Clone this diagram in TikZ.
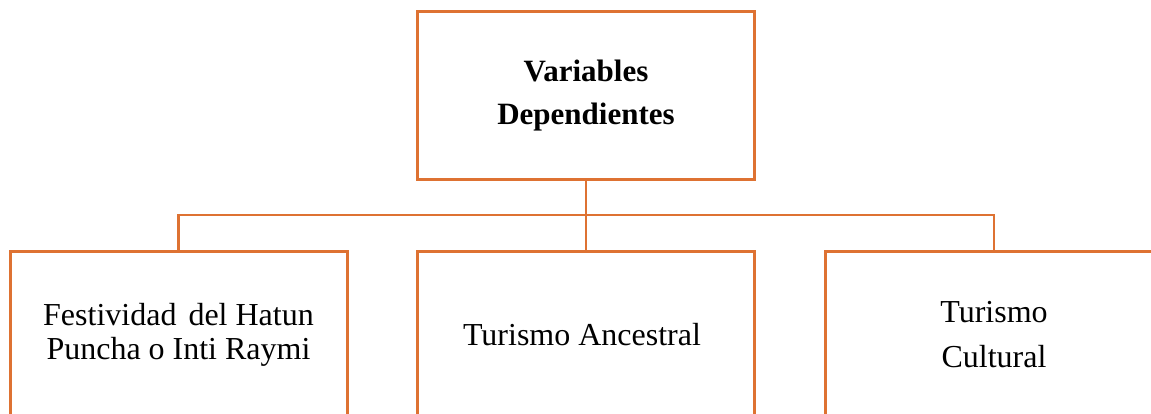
\documentclass[tikz,border=0pt]{standalone}
\usepackage{fontspec}
\setmainfont{Liberation Serif}
\usetikzlibrary{positioning}
\definecolor{naranja}{RGB}{222,114,50}

\begin{document}
\begin{tikzpicture}[x=1pt,y=-1pt]
\tikzstyle{every node}=[font=\fontsize{32}{34}\selectfont]
\tikzstyle{caja}=[rectangle, draw=naranja, line width=3pt, align=center,
minimum width=337pt, minimum height=168pt, inner sep=0pt]
\tikzstyle{rama}=[draw=naranja, line width=2.2pt]

\clip (0,0) rectangle (1151,414);

\node[caja, font=\fontsize{31}{43}\selectfont\bfseries] at (586, 96) (vd) {
Variables\\Dependientes
};

\node[caja] at (178.5, 335) (hatun) {
Festividad\hspace{12pt}del Hatun\\Puncha o Inti Raymi
};
\node[caja] at (586, 335) (ancestral) {
Turismo Ancestral
};
\node[caja, font=\fontsize{32}{45}\selectfont] at (994, 335) (cultural) {
Turismo\\Cultural
};

\coordinate (bus) at (586, 215);

\draw[rama] (vd.south) -- (ancestral.north);
\draw[rama] (hatun.north) |- (bus) -| (cultural.north);

\end{tikzpicture}
\end{document}
